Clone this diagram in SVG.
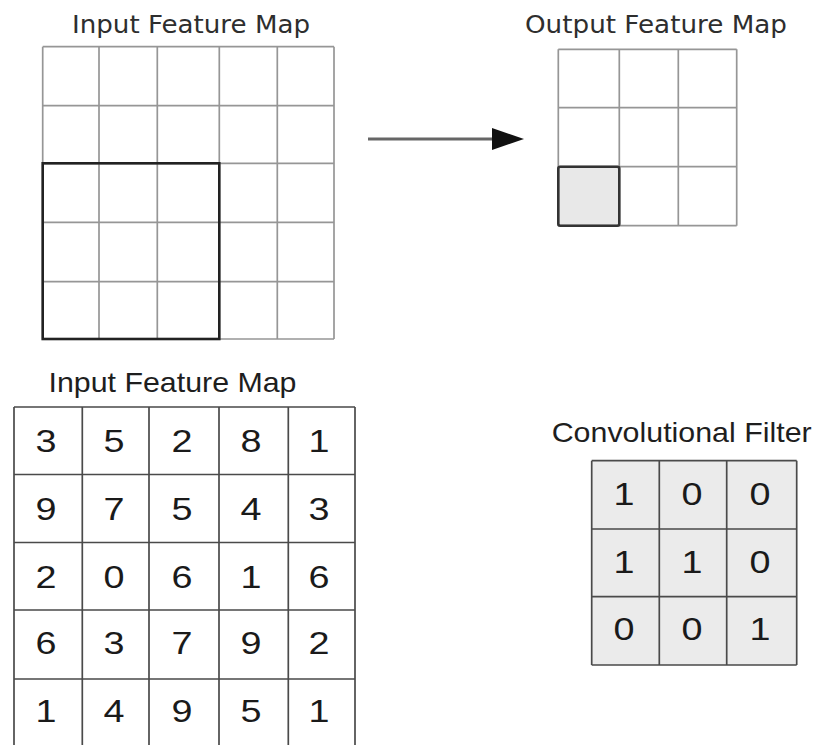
<svg xmlns="http://www.w3.org/2000/svg" width="814" height="745" viewBox="0 0 814 745">
<style>
.t1{font-family:"DejaVu Sans",sans-serif;font-size:25px;fill:#2e2e2e;text-anchor:middle}
.t2{font-family:"Liberation Sans",Arial,sans-serif;font-size:28px;fill:#1e1e1e;text-anchor:middle}
.d{font-family:"Liberation Sans",Arial,sans-serif;font-size:32px;fill:#1a1a1a;text-anchor:middle}
.lg{fill:none;stroke:#969696;stroke-width:1.7}
.dg{fill:none;stroke:#4a4a4a;stroke-width:1.7}
</style>
<defs>
<marker id="ah" markerUnits="userSpaceOnUse" markerWidth="32" markerHeight="22" refX="2" refY="11" orient="auto">
<path d="M0,0 L32,11 L0,22 Z" fill="#111"/>
</marker>
</defs>
<rect width="814" height="745" fill="#fff"/>

<g id="input-grid">
<text class="t1" x="191" y="33" textLength="238" lengthAdjust="spacingAndGlyphs">Input Feature Map</text>
<path class="lg" d="M42.7,46.7H334M42.7,105.7H334M42.7,163.3H334M42.7,222.3H334M42.7,281.7H334M42.7,339H334M42.7,46.7V339M99,46.7V339M157.3,46.7V339M219.3,46.7V339M277.3,46.7V339M334,46.7V339"/>
<rect x="42.7" y="163.3" width="176.6" height="175.7" fill="none" stroke="#222" stroke-width="2.6"/>
</g>

<g id="output-grid">
<text class="t1" x="656" y="33" textLength="262" lengthAdjust="spacingAndGlyphs">Output Feature Map</text>
<rect x="558.3" y="166.7" width="61" height="59" fill="#e8e8e8"/>
<path class="lg" d="M558.3,49.3H736.7M558.3,107.7H736.7M558.3,166.7H736.7M558.3,225.7H736.7M558.3,49.3V225.7M619.3,49.3V225.7M678.3,49.3V225.7M736.7,49.3V225.7"/>
<rect x="558.3" y="166.7" width="61" height="59" rx="2" fill="none" stroke="#333" stroke-width="2.6"/>
</g>

<g id="connectors">
<line x1="368" y1="139" x2="494" y2="139" stroke="#666" stroke-width="3" marker-end="url(#ah)"/>
</g>

<g id="input-values">
<text class="t2" x="172.5" y="392" textLength="248" lengthAdjust="spacingAndGlyphs">Input Feature Map</text>
<path class="dg" d="M14,407H355M14,474.5H355M14,542.5H355M14,610H355M14,679H355M14,747H355M14,407V747M82.3,407V747M149,407V747M219,407V747M288.3,407V747M355,407V747"/>
<g class="d">
<text x="46" y="452" textLength="21" lengthAdjust="spacingAndGlyphs">3</text><text x="114" y="452" textLength="21" lengthAdjust="spacingAndGlyphs">5</text><text x="182" y="452" textLength="21" lengthAdjust="spacingAndGlyphs">2</text><text x="251" y="452" textLength="21" lengthAdjust="spacingAndGlyphs">8</text><text x="319" y="452" textLength="21" lengthAdjust="spacingAndGlyphs">1</text>
<text x="46" y="519.5" textLength="21" lengthAdjust="spacingAndGlyphs">9</text><text x="114" y="519.5" textLength="21" lengthAdjust="spacingAndGlyphs">7</text><text x="182" y="519.5" textLength="21" lengthAdjust="spacingAndGlyphs">5</text><text x="251" y="519.5" textLength="21" lengthAdjust="spacingAndGlyphs">4</text><text x="319" y="519.5" textLength="21" lengthAdjust="spacingAndGlyphs">3</text>
<text x="46" y="587.7" textLength="21" lengthAdjust="spacingAndGlyphs">2</text><text x="114" y="587.7" textLength="21" lengthAdjust="spacingAndGlyphs">0</text><text x="182" y="587.7" textLength="21" lengthAdjust="spacingAndGlyphs">6</text><text x="251" y="587.7" textLength="21" lengthAdjust="spacingAndGlyphs">1</text><text x="319" y="587.7" textLength="21" lengthAdjust="spacingAndGlyphs">6</text>
<text x="46" y="654" textLength="21" lengthAdjust="spacingAndGlyphs">6</text><text x="114" y="654" textLength="21" lengthAdjust="spacingAndGlyphs">3</text><text x="182" y="654" textLength="21" lengthAdjust="spacingAndGlyphs">7</text><text x="251" y="654" textLength="21" lengthAdjust="spacingAndGlyphs">9</text><text x="319" y="654" textLength="21" lengthAdjust="spacingAndGlyphs">2</text>
<text x="46" y="721.7" textLength="21" lengthAdjust="spacingAndGlyphs">1</text><text x="114" y="721.7" textLength="21" lengthAdjust="spacingAndGlyphs">4</text><text x="182" y="721.7" textLength="21" lengthAdjust="spacingAndGlyphs">9</text><text x="251" y="721.7" textLength="21" lengthAdjust="spacingAndGlyphs">5</text><text x="319" y="721.7" textLength="21" lengthAdjust="spacingAndGlyphs">1</text>
</g>
</g>

<g id="filter">
<text class="t2" x="681.7" y="442" textLength="260" lengthAdjust="spacingAndGlyphs">Convolutional Filter</text>
<rect x="591.7" y="460.7" width="205" height="204.3" fill="#ebebeb"/>
<path class="dg" d="M591.7,460.7H796.7M591.7,529H796.7M591.7,596.7H796.7M591.7,665H796.7M591.7,460.7V665M659.3,460.7V665M726.7,460.7V665M796.7,460.7V665"/>
<g class="d">
<text x="624" y="505" textLength="21" lengthAdjust="spacingAndGlyphs">1</text><text x="692" y="505" textLength="21" lengthAdjust="spacingAndGlyphs">0</text><text x="760" y="505" textLength="21" lengthAdjust="spacingAndGlyphs">0</text>
<text x="624" y="573" textLength="21" lengthAdjust="spacingAndGlyphs">1</text><text x="692" y="573" textLength="21" lengthAdjust="spacingAndGlyphs">1</text><text x="760" y="573" textLength="21" lengthAdjust="spacingAndGlyphs">0</text>
<text x="624" y="640" textLength="21" lengthAdjust="spacingAndGlyphs">0</text><text x="692" y="640" textLength="21" lengthAdjust="spacingAndGlyphs">0</text><text x="760" y="640" textLength="21" lengthAdjust="spacingAndGlyphs">1</text>
</g>
</g>
</svg>
